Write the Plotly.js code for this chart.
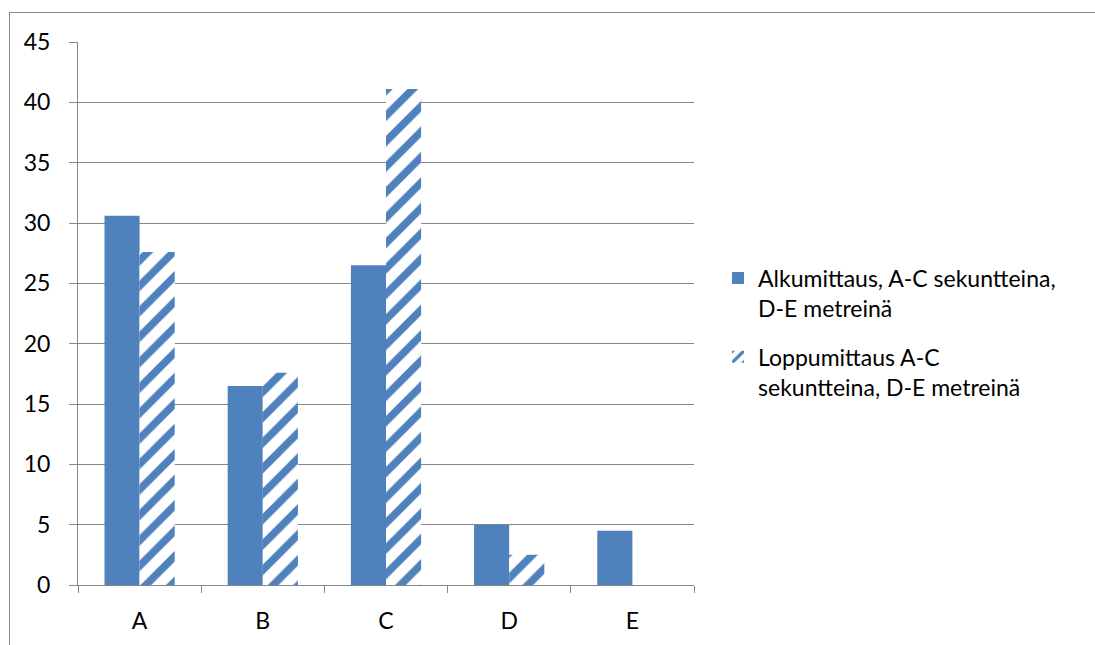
<!DOCTYPE html>
<html>
<head>
<meta charset="utf-8">
<script src="https://cdn.plot.ly/plotly-3.0.1.min.js"></script>
<style>
  html, body { margin: 0; padding: 0; background: #ffffff; overflow: hidden; }
  #frame {
    position: absolute; left: 9px; top: 12px; width: 1200px; height: 700px;
    border: 1.5px solid #8a8a8a; box-sizing: border-box;
  }
  #chart { position: absolute; left: 0; top: 0; width: 1095px; height: 645px; }
</style>
</head>
<body>
<div id="frame"></div>
<div id="chart"></div>
<script>
// Categories and measured values
const categories = ['A', 'B', 'C', 'D', 'E'];
const startValues = [30.6, 16.5, 26.5, 5.0, 4.5];
const endValues = [27.6, 17.6, 41.1, 2.5, 0];
const startName = 'Alkumittaus, A-C sekuntteina,<br>D-E metreinä';
const endName = 'Loppumittaus A-C<br>sekuntteina, D-E metreinä';
const yTicks = [0, 5, 10, 15, 20, 25, 30, 35, 40, 45];

const blue = '#4F81BD';
const grid = '#878787';
const font = { family: 'Lato, "Open Sans", sans-serif', size: 23, color: '#000000' };

const traces = [
  {
    type: 'bar', x: categories, y: startValues, name: startName,
    legendgroup: 'g1',
    marker: { color: blue, line: { width: 0 } },
    hoverinfo: 'x+y'
  },
  {
    type: 'bar', x: categories, y: endValues, name: endName,
    legendgroup: 'g2',
    marker: {
      color: blue,
      line: { width: 0 },
      pattern: {
        shape: '/', fillmode: 'replace', fgcolor: blue, bgcolor: '#ffffff',
        fgopacity: 1, size: 18, solidity: 0.42
      }
    },
    hoverinfo: 'x+y'
  }
];

const layout = {
  width: 1095, height: 645,
  margin: { l: 78, r: 401, t: 42, b: 60, pad: 0 },
  paper_bgcolor: 'rgba(0,0,0,0)',
  plot_bgcolor: 'rgba(0,0,0,0)',
  font: font,
  barmode: 'group',
  bargap: 0.43,
  bargroupgap: 0,
  showlegend: true,
  legend: {
    x: 1.039, xanchor: 'left', y: 0.465, yanchor: 'middle',
    valign: 'top', tracegroupgap: 16, traceorder: 'grouped',
    font: font, bgcolor: 'rgba(0,0,0,0)'
  },
  xaxis: {
    type: 'category', tickson: 'boundaries',
    ticks: 'outside', ticklen: 7, tickcolor: grid, tickwidth: 1,
    showline: true, linecolor: grid, linewidth: 1,
    showgrid: false, zeroline: false,
    ticklabelstandoff: 15,
    tickfont: font, fixedrange: true
  },
  yaxis: {
    range: [0, 45], tickvals: yTicks, ticktext: yTicks.map(String),
    ticks: 'outside', ticklen: 8, tickcolor: grid, tickwidth: 1,
    showline: true, linecolor: grid, linewidth: 1,
    showgrid: true, gridcolor: grid, gridwidth: 1,
    zeroline: false, ticklabelstandoff: 14,
    tickfont: font, fixedrange: true
  }
};

Plotly.newPlot('chart', traces, layout, { displayModeBar: false, staticPlot: true });
</script>
</body>
</html>
